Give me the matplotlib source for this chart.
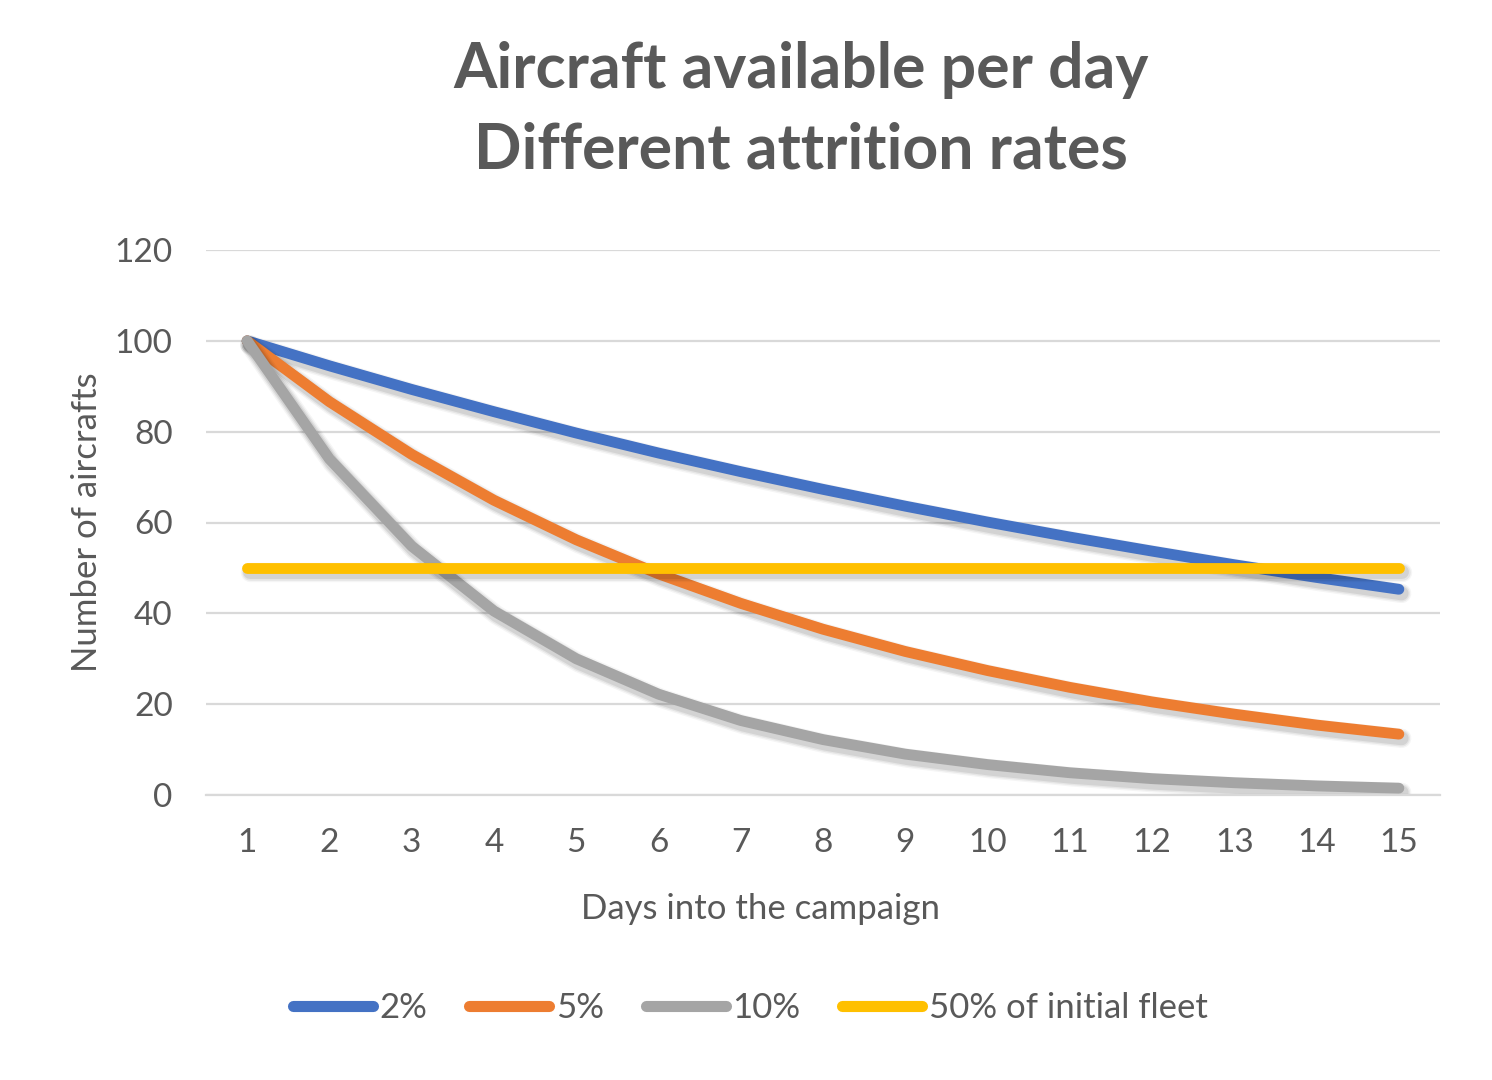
import matplotlib.pyplot as plt
import matplotlib.patheffects as pe

days = list(range(1, 16))
rate_2 = [100, 94.5, 89.3, 84.4, 79.7, 75.3, 71.2, 67.3, 63.6, 60.1, 56.8, 53.7, 50.7, 47.9, 45.3]
rate_5 = [100, 86.6, 75.0, 64.9, 56.2, 48.7, 42.2, 36.5, 31.6, 27.4, 23.7, 20.5, 17.8, 15.4, 13.4]
rate_10 = [100, 74.0, 54.8, 40.5, 30.0, 22.2, 16.4, 12.2, 9.0, 6.7, 4.9, 3.6, 2.7, 2.0, 1.5]
half_fleet = [50] * 15

series = [
    ('2%', rate_2, '#4472C4'),
    ('5%', rate_5, '#ED7D31'),
    ('10%', rate_10, '#A5A5A5'),
    ('50% of initial fleet', half_fleet, '#FFC000'),
]

plt.rcParams['font.family'] = ['Lato', 'DejaVu Sans']
txt = '#595959'

fig = plt.figure(figsize=(14.92, 10.8), dpi=100)
ax = fig.add_axes([206 / 1492, 285 / 1080, (1440 - 206) / 1492, (795 - 250) / 1080])

# soft shadow: a few widening, faint strokes under the line
shadow = [pe.Stroke(offset=(2, -3), linewidth=w, foreground='k', alpha=a)
          for w, a in [(14, 0.04), (12, 0.06), (10, 0.08)]] + [pe.Normal()]
for name, vals, col in series:
    ax.plot(days, vals, color=col, lw=7.8, solid_capstyle='round', solid_joinstyle='round',
            label=name, path_effects=shadow)

ax.set_xlim(0.5, 15.5)
ax.set_ylim(0, 120)
ax.set_xticks(days)
ax.set_yticks(range(0, 121, 20))
ax.grid(axis='y', color='#d9d9d9', lw=1.6)
ax.set_axisbelow(True)
for s in ['top', 'right', 'left']:
    ax.spines[s].set_visible(False)
ax.spines['bottom'].set_color('#d9d9d9')
ax.spines['bottom'].set_linewidth(1.6)
ax.tick_params(length=0, labelsize=24, colors=txt)
ax.tick_params(axis='x', pad=24)
ax.tick_params(axis='y', pad=24)

ax.set_xlabel('Days into the campaign', fontsize=25, color=txt)
ax.xaxis.set_label_coords(0.449, -0.18)
ax.set_ylabel('Number of aircrafts', fontsize=25, color=txt, labelpad=8)

fig.text(0.537, 0.962, 'Aircraft available per day\nDifferent attrition rates', ha='center', va='top',
         fontsize=45, fontweight='bold', color=txt, linespacing=1.48)

leg = fig.legend(loc='center', bbox_to_anchor=(0.503, 1 - 1008 / 1080), ncol=4, frameon=False,
                 fontsize=25, labelcolor=txt, handlelength=2.3, handletextpad=0.2, columnspacing=1.2)
for h in leg.get_lines():
    h.set_linewidth(8)
    h.set_solid_capstyle('round')
    h.set_path_effects([])

fig.savefig('out.png', dpi=100, facecolor='white')
